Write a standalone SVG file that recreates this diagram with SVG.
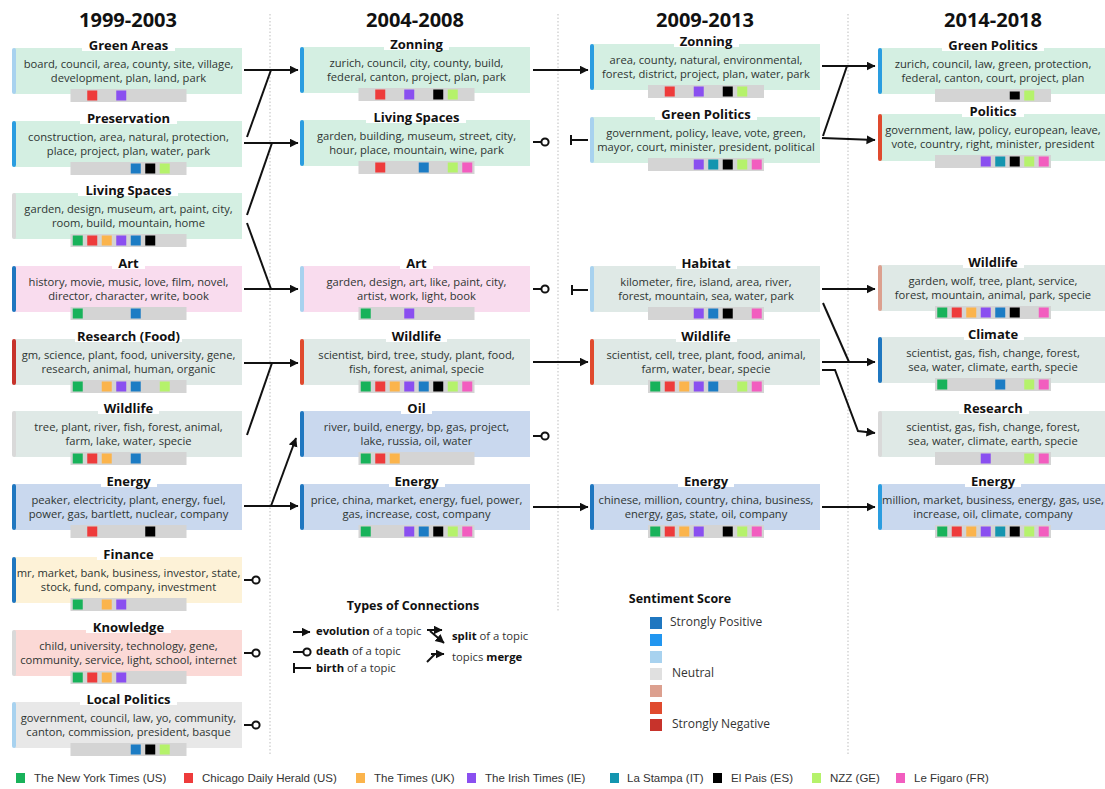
<svg xmlns="http://www.w3.org/2000/svg" width="1105" height="789" viewBox="0 0 1105 789">
<style>
text{font-family:"Open Sans","Liberation Sans",sans-serif;text-anchor:middle}
.hdr{font-size:20px;font-weight:700;fill:#111}
.ttl{font-size:13px;font-weight:700;fill:#111}
.txt{font-size:11.2px;fill:#2e3532}
.lg{font-size:11.3px;fill:#333;text-anchor:start}
.lgb{font-weight:700;fill:#111}
.lgt{font-size:12.5px;font-weight:700;fill:#111}
.sl{font-size:12px;fill:#333;text-anchor:start}
.np{font-family:"Liberation Sans",sans-serif;font-size:11.5px;fill:#333;text-anchor:start}
.tbg{fill:#fff}
.strip{fill:#d4d4d4}
.mint{fill:#d4efe2}.pink{fill:#f9dcee}.gg{fill:#dfe9e6}.blu{fill:#c9d8ee}.yel{fill:#fdf2d7}.ros{fill:#fbd9d6}.gry{fill:#e8e8e8}
.sp{fill:#1f77c0}.p{fill:#2a9de0}.lp{fill:#a8d2ef}.neu{fill:#d9d9d9}.ln{fill:#dca08f}.n{fill:#e04a2e}.sn{fill:#c7332b}
.c0{fill:#18b25a}.c1{fill:#ee3b3b}.c2{fill:#fbb44c}.c3{fill:#8a4ff0}.c4{fill:#1c7cc4}.c4t{fill:#1495af}.c5{fill:#000}.c6{fill:#b5f26b}.c7{fill:#f25dbf}
.sep{stroke:#c9c9c9;stroke-width:1.2;stroke-dasharray:1.5 2;fill:none}
.cn{fill:none;stroke:#111;stroke-width:2}
.dc{fill:#fff;stroke:#111;stroke-width:2}
</style>
<defs>
<marker id="arr" markerUnits="userSpaceOnUse" markerWidth="10" markerHeight="10" refX="8.5" refY="4.5" orient="auto"><path d="M0,0 L9,4.5 L0,9 z" fill="#111"/></marker>
</defs>
<rect width="1105" height="789" fill="#fff"/>

<g id="separators">
<line class="sep" x1="270" y1="14" x2="270" y2="755"/>
<line class="sep" x1="558" y1="14" x2="558" y2="612"/>
<line class="sep" x1="848" y1="14" x2="848" y2="755"/>
</g>

<g id="headers">
<text class="hdr" x="128" y="27">1999-2003</text>
<text class="hdr" x="415" y="27">2004-2008</text>
<text class="hdr" x="705" y="27">2009-2013</text>
<text class="hdr" x="993" y="27">2014-2018</text>
</g>

<g id="c1-green-areas" transform="translate(12,48)">
<rect class="mint" x="2" y="0" width="228" height="46"/><rect class="lp" x="0" y="0" width="4" height="46" rx="2"/>
<rect class="tbg" x="70" y="-12" width="93" height="15"/><text class="ttl" x="116.5" y="1.5">Green Areas</text>
<text class="txt" x="116.5" y="20">board, council, area, county, site, village,</text>
<text class="txt" x="116.5" y="34">development, plan, land, park</text>
<rect class="strip" x="58.5" y="41" width="116" height="13"/>
<rect class="c1" x="75.25" y="42.5" width="10" height="10"/><rect class="c3" x="104.25" y="42.5" width="10" height="10"/>
</g>
<g id="c1-preservation" transform="translate(12,121)">
<rect class="mint" x="2" y="0" width="228" height="46"/><rect class="p" x="0" y="0" width="4" height="46" rx="2"/>
<rect class="tbg" x="68" y="-12" width="97" height="15"/><text class="ttl" x="116.5" y="1.5">Preservation</text>
<text class="txt" x="116.5" y="20">construction, area, natural, protection,</text>
<text class="txt" x="116.5" y="34">place, project, plan, water, park</text>
<rect class="strip" x="58.5" y="41" width="116" height="13"/>
<rect class="c4" x="118.75" y="42.5" width="10" height="10"/><rect class="c5" x="133.25" y="42.5" width="10" height="10"/><rect class="c6" x="147.75" y="42.5" width="10" height="10"/>
</g>
<g id="c1-living-spaces" transform="translate(12,193)">
<rect class="mint" x="2" y="0" width="228" height="46"/><rect class="neu" x="0" y="0" width="4" height="46" rx="2"/>
<rect class="tbg" x="66" y="-12" width="100" height="15"/><text class="ttl" x="116.5" y="1.5">Living Spaces</text>
<text class="txt" x="116.5" y="20">garden, design, museum, art, paint, city,</text>
<text class="txt" x="116.5" y="34">room, build, mountain, home</text>
<rect class="strip" x="58.5" y="41" width="116" height="13"/>
<rect class="c0" x="60.75" y="42.5" width="10" height="10"/><rect class="c1" x="75.25" y="42.5" width="10" height="10"/><rect class="c2" x="89.75" y="42.5" width="10" height="10"/><rect class="c3" x="104.25" y="42.5" width="10" height="10"/><rect class="c4" x="118.75" y="42.5" width="10" height="10"/><rect class="c5" x="133.25" y="42.5" width="10" height="10"/>
</g>
<g id="c1-art" transform="translate(12,266)">
<rect class="pink" x="2" y="0" width="228" height="46"/><rect class="sp" x="0" y="0" width="4" height="46" rx="2"/>
<rect class="tbg" x="100" y="-12" width="33" height="15"/><text class="ttl" x="116.5" y="1.5">Art</text>
<text class="txt" x="116.5" y="20">history, movie, music, love, film, novel,</text>
<text class="txt" x="116.5" y="34">director, character, write, book</text>
<rect class="strip" x="58.5" y="41" width="116" height="13"/>
<rect class="c0" x="60.75" y="42.5" width="10" height="10"/><rect class="c4" x="118.75" y="42.5" width="10" height="10"/>
</g>
<g id="c1-research-food" transform="translate(12,339)">
<rect class="gg" x="2" y="0" width="228" height="46"/><rect class="sn" x="0" y="0" width="4" height="46" rx="2"/>
<rect class="tbg" x="63" y="-12" width="107" height="15"/><text class="ttl" x="116.5" y="1.5">Research (Food)</text>
<text class="txt" x="116.5" y="20">gm, science, plant, food, university, gene,</text>
<text class="txt" x="116.5" y="34">research, animal, human, organic</text>
<rect class="strip" x="58.5" y="41" width="116" height="13"/>
<rect class="c0" x="60.75" y="42.5" width="10" height="10"/><rect class="c2" x="89.75" y="42.5" width="10" height="10"/><rect class="c3" x="104.25" y="42.5" width="10" height="10"/><rect class="c4" x="118.75" y="42.5" width="10" height="10"/><rect class="c6" x="147.75" y="42.5" width="10" height="10"/>
</g>
<g id="c1-wildlife" transform="translate(12,411)">
<rect class="gg" x="2" y="0" width="228" height="46"/><rect class="neu" x="0" y="0" width="4" height="46" rx="2"/>
<rect class="tbg" x="86" y="-12" width="61" height="15"/><text class="ttl" x="116.5" y="1.5">Wildlife</text>
<text class="txt" x="116.5" y="20">tree, plant, river, fish, forest, animal,</text>
<text class="txt" x="116.5" y="34">farm, lake, water, specie</text>
<rect class="strip" x="58.5" y="41" width="116" height="13"/>
<rect class="c0" x="60.75" y="42.5" width="10" height="10"/><rect class="c1" x="75.25" y="42.5" width="10" height="10"/><rect class="c2" x="89.75" y="42.5" width="10" height="10"/><rect class="c4" x="118.75" y="42.5" width="10" height="10"/>
</g>
<g id="c1-energy" transform="translate(12,484)">
<rect class="blu" x="2" y="0" width="228" height="46"/><rect class="sp" x="0" y="0" width="4" height="46" rx="2"/>
<rect class="tbg" x="89" y="-12" width="56" height="15"/><text class="ttl" x="116.5" y="1.5">Energy</text>
<text class="txt" x="116.5" y="20">peaker, electricity, plant, energy, fuel,</text>
<text class="txt" x="116.5" y="34">power, gas, bartlett, nuclear, company</text>
<rect class="strip" x="58.5" y="41" width="116" height="13"/>
<rect class="c1" x="75.25" y="42.5" width="10" height="10"/><rect class="c5" x="133.25" y="42.5" width="10" height="10"/>
</g>
<g id="c1-finance" transform="translate(12,557)">
<rect class="yel" x="2" y="0" width="228" height="46"/><rect class="sp" x="0" y="0" width="4" height="46" rx="2"/>
<rect class="tbg" x="85" y="-12" width="63" height="15"/><text class="ttl" x="116.5" y="1.5">Finance</text>
<text class="txt" x="116.5" y="20">mr, market, bank, business, investor, state,</text>
<text class="txt" x="116.5" y="34">stock, fund, company, investment</text>
<rect class="strip" x="58.5" y="41" width="116" height="13"/>
<rect class="c0" x="60.75" y="42.5" width="10" height="10"/><rect class="c2" x="89.75" y="42.5" width="10" height="10"/><rect class="c3" x="104.25" y="42.5" width="10" height="10"/>
</g>
<g id="c1-knowledge" transform="translate(12,630)">
<rect class="ros" x="2" y="0" width="228" height="46"/><rect class="neu" x="0" y="0" width="4" height="46" rx="2"/>
<rect class="tbg" x="74" y="-12" width="85" height="15"/><text class="ttl" x="116.5" y="1.5">Knowledge</text>
<text class="txt" x="116.5" y="20">child, university, technology, gene,</text>
<text class="txt" x="116.5" y="34">community, service, light, school, internet</text>
<rect class="strip" x="58.5" y="41" width="116" height="13"/>
<rect class="c0" x="60.75" y="42.5" width="10" height="10"/><rect class="c1" x="75.25" y="42.5" width="10" height="10"/><rect class="c2" x="89.75" y="42.5" width="10" height="10"/><rect class="c3" x="104.25" y="42.5" width="10" height="10"/>
</g>
<g id="c1-local-politics" transform="translate(12,702)">
<rect class="gry" x="2" y="0" width="228" height="46"/><rect class="lp" x="0" y="0" width="4" height="46" rx="2"/>
<rect class="tbg" x="68" y="-12" width="97" height="15"/><text class="ttl" x="116.5" y="1.5">Local Politics</text>
<text class="txt" x="116.5" y="20">government, council, law, yo, community,</text>
<text class="txt" x="116.5" y="34">canton, commission, president, basque</text>
<rect class="strip" x="58.5" y="41" width="116" height="13"/>
<rect class="c4" x="118.75" y="42.5" width="10" height="10"/><rect class="c5" x="133.25" y="42.5" width="10" height="10"/><rect class="c6" x="147.75" y="42.5" width="10" height="10"/>
</g>

<g id="c2-zonning" transform="translate(300,47)">
<rect class="mint" x="2" y="0" width="228" height="46"/><rect class="p" x="0" y="0" width="4" height="46" rx="2"/>
<rect class="tbg" x="84" y="-12" width="65" height="15"/><text class="ttl" x="116.5" y="1.5">Zonning</text>
<text class="txt" x="116.5" y="19.5">zurich, council, city, county, build,</text>
<text class="txt" x="116.5" y="33.5">federal, canton, project, plan, park</text>
<rect class="strip" x="58.5" y="41" width="116" height="13"/>
<rect class="c1" x="75.25" y="42.5" width="10" height="10"/><rect class="c3" x="104.25" y="42.5" width="10" height="10"/><rect class="c5" x="133.25" y="42.5" width="10" height="10"/><rect class="c6" x="147.75" y="42.5" width="10" height="10"/>
</g>
<g id="c2-living-spaces" transform="translate(300,120)">
<rect class="mint" x="2" y="0" width="228" height="46"/><rect class="p" x="0" y="0" width="4" height="46" rx="2"/>
<rect class="tbg" x="66" y="-12" width="100" height="15"/><text class="ttl" x="116.5" y="1.5">Living Spaces</text>
<text class="txt" x="116.5" y="19.5">garden, building, museum, street, city,</text>
<text class="txt" x="116.5" y="33.5">hour, place, mountain, wine, park</text>
<rect class="strip" x="58.5" y="41" width="116" height="13"/>
<rect class="c1" x="75.25" y="42.5" width="10" height="10"/><rect class="c4" x="118.75" y="42.5" width="10" height="10"/><rect class="c6" x="147.75" y="42.5" width="10" height="10"/><rect class="c7" x="162.25" y="42.5" width="10" height="10"/>
</g>
<g id="c2-art" transform="translate(300,266)">
<rect class="pink" x="2" y="0" width="228" height="46"/><rect class="lp" x="0" y="0" width="4" height="46" rx="2"/>
<rect class="tbg" x="100" y="-12" width="33" height="15"/><text class="ttl" x="116.5" y="1.5">Art</text>
<text class="txt" x="116.5" y="19.5">garden, design, art, like, paint, city,</text>
<text class="txt" x="116.5" y="33.5">artist, work, light, book</text>
<rect class="strip" x="58.5" y="41" width="116" height="13"/>
<rect class="c0" x="60.75" y="42.5" width="10" height="10"/><rect class="c3" x="104.25" y="42.5" width="10" height="10"/>
</g>
<g id="c2-wildlife" transform="translate(300,339)">
<rect class="gg" x="2" y="0" width="228" height="46"/><rect class="n" x="0" y="0" width="4" height="46" rx="2"/>
<rect class="tbg" x="86" y="-12" width="61" height="15"/><text class="ttl" x="116.5" y="1.5">Wildlife</text>
<text class="txt" x="116.5" y="19.5">scientist, bird, tree, study, plant, food,</text>
<text class="txt" x="116.5" y="33.5">fish, forest, animal, specie</text>
<rect class="strip" x="58.5" y="41" width="116" height="13"/>
<rect class="c0" x="60.75" y="42.5" width="10" height="10"/><rect class="c1" x="75.25" y="42.5" width="10" height="10"/><rect class="c2" x="89.75" y="42.5" width="10" height="10"/><rect class="c3" x="104.25" y="42.5" width="10" height="10"/><rect class="c4" x="118.75" y="42.5" width="10" height="10"/><rect class="c5" x="133.25" y="42.5" width="10" height="10"/><rect class="c6" x="147.75" y="42.5" width="10" height="10"/><rect class="c7" x="162.25" y="42.5" width="10" height="10"/>
</g>
<g id="c2-oil" transform="translate(300,411)">
<rect class="blu" x="2" y="0" width="228" height="46"/><rect class="sp" x="0" y="0" width="4" height="46" rx="2"/>
<rect class="tbg" x="101" y="-12" width="31" height="15"/><text class="ttl" x="116.5" y="1.5">Oil</text>
<text class="txt" x="116.5" y="19.5">river, build, energy, bp, gas, project,</text>
<text class="txt" x="116.5" y="33.5">lake, russia, oil, water</text>
<rect class="strip" x="58.5" y="41" width="116" height="13"/>
<rect class="c0" x="60.75" y="42.5" width="10" height="10"/><rect class="c1" x="75.25" y="42.5" width="10" height="10"/><rect class="c2" x="89.75" y="42.5" width="10" height="10"/>
</g>
<g id="c2-energy" transform="translate(300,484)">
<rect class="blu" x="2" y="0" width="228" height="46"/><rect class="sp" x="0" y="0" width="4" height="46" rx="2"/>
<rect class="tbg" x="89" y="-12" width="56" height="15"/><text class="ttl" x="116.5" y="1.5">Energy</text>
<text class="txt" x="116.5" y="19.5">price, china, market, energy, fuel, power,</text>
<text class="txt" x="116.5" y="33.5">gas, increase, cost, company</text>
<rect class="strip" x="58.5" y="41" width="116" height="13"/>
<rect class="c0" x="60.75" y="42.5" width="10" height="10"/><rect class="c3" x="104.25" y="42.5" width="10" height="10"/><rect class="c4" x="118.75" y="42.5" width="10" height="10"/><rect class="c5" x="133.25" y="42.5" width="10" height="10"/><rect class="c6" x="147.75" y="42.5" width="10" height="10"/><rect class="c7" x="162.25" y="42.5" width="10" height="10"/>
</g>

<g id="c3-zonning" transform="translate(590,44)">
<rect class="mint" x="2" y="0" width="228" height="46"/><rect class="p" x="0" y="0" width="4" height="46" rx="2"/>
<rect class="tbg" x="84" y="-12" width="65" height="15"/><text class="ttl" x="116" y="1.5">Zonning</text>
<text class="txt" x="116" y="19.5">area, county, natural, environmental,</text>
<text class="txt" x="116" y="33.5">forest, district, project, plan, water, park</text>
<rect class="strip" x="58" y="41" width="116" height="13"/>
<rect class="c1" x="74.75" y="42.5" width="10" height="10"/><rect class="c3" x="103.75" y="42.5" width="10" height="10"/><rect class="c5" x="132.75" y="42.5" width="10" height="10"/><rect class="c6" x="147.25" y="42.5" width="10" height="10"/>
</g>
<g id="c3-green-politics" transform="translate(590,117)">
<rect class="mint" x="2" y="0" width="228" height="46"/><rect class="lp" x="0" y="0" width="4" height="46" rx="2"/>
<rect class="tbg" x="65" y="-12" width="102" height="15"/><text class="ttl" x="116" y="1.5">Green Politics</text>
<text class="txt" x="116" y="19.5">government, policy, leave, vote, green,</text>
<text class="txt" x="116" y="33.5">mayor, court, minister, president, political</text>
<rect class="strip" x="58" y="41" width="116" height="13"/>
<rect class="c3" x="103.75" y="42.5" width="10" height="10"/><rect class="c4t" x="118.25" y="42.5" width="10" height="10"/><rect class="c5" x="132.75" y="42.5" width="10" height="10"/><rect class="c6" x="147.25" y="42.5" width="10" height="10"/><rect class="c7" x="161.75" y="42.5" width="10" height="10"/>
</g>
<g id="c3-habitat" transform="translate(590,266)">
<rect class="gg" x="2" y="0" width="228" height="46"/><rect class="lp" x="0" y="0" width="4" height="46" rx="2"/>
<rect class="tbg" x="86" y="-12" width="61" height="15"/><text class="ttl" x="116" y="1.5">Habitat</text>
<text class="txt" x="116" y="19.5">kilometer, fire, island, area, river,</text>
<text class="txt" x="116" y="33.5">forest, mountain, sea, water, park</text>
<rect class="strip" x="58" y="41" width="116" height="13"/>
<rect class="c3" x="103.75" y="42.5" width="10" height="10"/><rect class="c4" x="118.25" y="42.5" width="10" height="10"/><rect class="c5" x="132.75" y="42.5" width="10" height="10"/><rect class="c7" x="161.75" y="42.5" width="10" height="10"/>
</g>
<g id="c3-wildlife" transform="translate(590,339)">
<rect class="gg" x="2" y="0" width="228" height="46"/><rect class="n" x="0" y="0" width="4" height="46" rx="2"/>
<rect class="tbg" x="86" y="-12" width="61" height="15"/><text class="ttl" x="116" y="1.5">Wildlife</text>
<text class="txt" x="116" y="19.5">scientist, cell, tree, plant, food, animal,</text>
<text class="txt" x="116" y="33.5">farm, water, bear, specie</text>
<rect class="strip" x="58" y="41" width="116" height="13"/>
<rect class="c0" x="60.25" y="42.5" width="10" height="10"/><rect class="c1" x="74.75" y="42.5" width="10" height="10"/><rect class="c2" x="89.25" y="42.5" width="10" height="10"/><rect class="c3" x="103.75" y="42.5" width="10" height="10"/><rect class="c4" x="118.25" y="42.5" width="10" height="10"/><rect class="c6" x="147.25" y="42.5" width="10" height="10"/><rect class="c7" x="161.75" y="42.5" width="10" height="10"/>
</g>
<g id="c3-energy" transform="translate(590,484)">
<rect class="blu" x="2" y="0" width="228" height="46"/><rect class="sp" x="0" y="0" width="4" height="46" rx="2"/>
<rect class="tbg" x="88" y="-12" width="56" height="15"/><text class="ttl" x="116" y="1.5">Energy</text>
<text class="txt" x="116" y="19.5">chinese, million, country, china, business,</text>
<text class="txt" x="116" y="33.5">energy, gas, state, oil, company</text>
<rect class="strip" x="58" y="41" width="116" height="13"/>
<rect class="c0" x="60.25" y="42.5" width="10" height="10"/><rect class="c1" x="74.75" y="42.5" width="10" height="10"/><rect class="c2" x="89.25" y="42.5" width="10" height="10"/><rect class="c3" x="103.75" y="42.5" width="10" height="10"/><rect class="c5" x="132.75" y="42.5" width="10" height="10"/><rect class="c6" x="147.25" y="42.5" width="10" height="10"/><rect class="c7" x="161.75" y="42.5" width="10" height="10"/>
</g>

<g id="c4-green-politics" transform="translate(878,48)">
<rect class="mint" x="2" y="0" width="228" height="46"/><rect class="p" x="0" y="0" width="4" height="46" rx="2"/>
<rect class="tbg" x="64" y="-12" width="102" height="15"/><text class="ttl" x="115" y="1.5">Green Politics</text>
<text class="txt" x="115" y="19.5">zurich, council, law, green, protection,</text>
<text class="txt" x="115" y="33.5">federal, canton, court, project, plan</text>
<rect class="strip" x="57" y="41" width="116" height="13"/>
<rect class="c5" x="131.75" y="43.5" width="10" height="8"/><rect class="c6" x="146.25" y="42.5" width="10" height="10"/>
</g>
<g id="c4-politics" transform="translate(878,114)">
<rect class="mint" x="2" y="0" width="228" height="47"/><rect class="n" x="0" y="0" width="4" height="47" rx="2"/>
<rect class="tbg" x="84" y="-12" width="62" height="15"/><text class="ttl" x="115" y="1.5">Politics</text>
<text class="txt" x="115" y="19.5">government, law, policy, european, leave,</text>
<text class="txt" x="115" y="33.5">vote, country, right, minister, president</text>
<rect class="strip" x="57" y="41" width="116" height="13"/>
<rect class="c3" x="102.75" y="42.5" width="10" height="10"/><rect class="c4t" x="117.25" y="42.5" width="10" height="10"/><rect class="c5" x="131.75" y="42.5" width="10" height="10"/><rect class="c6" x="146.25" y="42.5" width="10" height="10"/><rect class="c7" x="160.75" y="42.5" width="10" height="10"/>
</g>
<g id="c4-wildlife" transform="translate(878,265)">
<rect class="gg" x="2" y="0" width="228" height="46"/><rect class="ln" x="0" y="0" width="4" height="46" rx="2"/>
<rect class="tbg" x="85" y="-12" width="61" height="15"/><text class="ttl" x="115" y="1.5">Wildlife</text>
<text class="txt" x="115" y="19.5">garden, wolf, tree, plant, service,</text>
<text class="txt" x="115" y="33.5">forest, mountain, animal, park, specie</text>
<rect class="strip" x="57" y="41" width="116" height="13"/>
<rect class="c0" x="59.25" y="42.5" width="10" height="10"/><rect class="c1" x="73.75" y="42.5" width="10" height="10"/><rect class="c2" x="88.25" y="42.5" width="10" height="10"/><rect class="c3" x="102.75" y="42.5" width="10" height="10"/><rect class="c4" x="117.25" y="42.5" width="10" height="10"/><rect class="c5" x="131.75" y="42.5" width="10" height="10"/><rect class="c7" x="160.75" y="42.5" width="10" height="10"/>
</g>
<g id="c4-climate" transform="translate(878,337)">
<rect class="gg" x="2" y="0" width="228" height="46"/><rect class="sp" x="0" y="0" width="4" height="46" rx="2"/>
<rect class="tbg" x="86" y="-12" width="60" height="15"/><text class="ttl" x="115" y="1.5">Climate</text>
<text class="txt" x="115" y="19.5">scientist, gas, fish, change, forest,</text>
<text class="txt" x="115" y="33.5">sea, water, climate, earth, specie</text>
<rect class="strip" x="57" y="41" width="116" height="13"/>
<rect class="c0" x="59.25" y="42.5" width="10" height="10"/><rect class="c4" x="117.25" y="42.5" width="10" height="10"/><rect class="c6" x="146.25" y="42.5" width="10" height="10"/><rect class="c7" x="160.75" y="42.5" width="10" height="10"/>
</g>
<g id="c4-research" transform="translate(878,411)">
<rect class="gg" x="2" y="0" width="228" height="46"/><rect class="neu" x="0" y="0" width="4" height="46" rx="2"/>
<rect class="tbg" x="81" y="-12" width="70" height="15"/><text class="ttl" x="115" y="1.5">Research</text>
<text class="txt" x="115" y="19.5">scientist, gas, fish, change, forest,</text>
<text class="txt" x="115" y="33.5">sea, water, climate, earth, specie</text>
<rect class="strip" x="57" y="41" width="116" height="13"/>
<rect class="c3" x="102.75" y="42.5" width="10" height="10"/><rect class="c6" x="146.25" y="42.5" width="10" height="10"/><rect class="c7" x="160.75" y="42.5" width="10" height="10"/>
</g>
<g id="c4-energy" transform="translate(878,484)">
<rect class="blu" x="2" y="0" width="228" height="46"/><rect class="p" x="0" y="0" width="4" height="46" rx="2"/>
<rect class="tbg" x="87" y="-12" width="56" height="15"/><text class="ttl" x="115" y="1.5">Energy</text>
<text class="txt" x="115" y="19.5">million, market, business, energy, gas, use,</text>
<text class="txt" x="115" y="33.5">increase, oil, climate, company</text>
<rect class="strip" x="57" y="41" width="116" height="13"/>
<rect class="c0" x="59.25" y="42.5" width="10" height="10"/><rect class="c1" x="73.75" y="42.5" width="10" height="10"/><rect class="c2" x="88.25" y="42.5" width="10" height="10"/><rect class="c3" x="102.75" y="42.5" width="10" height="10"/><rect class="c4t" x="117.25" y="42.5" width="10" height="10"/><rect class="c5" x="131.75" y="42.5" width="10" height="10"/><rect class="c6" x="146.25" y="42.5" width="10" height="10"/><rect class="c7" x="160.75" y="42.5" width="10" height="10"/>
</g>

<g id="connectors">
<line class="cn" x1="244" y1="70" x2="298" y2="70" marker-end="url(#arr)"/>
<line class="cn" x1="247" y1="137" x2="271" y2="70"/>
<line class="cn" x1="244" y1="143" x2="298" y2="143" marker-end="url(#arr)"/>
<line class="cn" x1="247" y1="215" x2="272" y2="143"/>
<line class="cn" x1="247" y1="223" x2="271" y2="289"/>
<line class="cn" x1="244" y1="289" x2="298" y2="289" marker-end="url(#arr)"/>
<line class="cn" x1="244" y1="363" x2="298" y2="363" marker-end="url(#arr)"/>
<line class="cn" x1="247" y1="435" x2="272" y2="363"/>
<line class="cn" x1="244" y1="506" x2="298" y2="506" marker-end="url(#arr)"/>
<line class="cn" x1="271" y1="506" x2="296" y2="438" marker-end="url(#arr)"/>
<line class="cn" x1="244" y1="580" x2="252" y2="580"/><circle class="dc" cx="256" cy="580" r="3.6"/>
<line class="cn" x1="244" y1="653" x2="252" y2="653"/><circle class="dc" cx="256" cy="653" r="3.6"/>
<line class="cn" x1="244" y1="725" x2="252" y2="725"/><circle class="dc" cx="256" cy="725" r="3.6"/>

<line class="cn" x1="533" y1="70" x2="588" y2="70" marker-end="url(#arr)"/>
<line class="cn" x1="533" y1="142" x2="541" y2="142"/><circle class="dc" cx="545" cy="142" r="3.6"/>
<line class="cn" x1="533" y1="289" x2="541" y2="289"/><circle class="dc" cx="545" cy="289" r="3.6"/>
<line class="cn" x1="533" y1="362" x2="588" y2="362" marker-end="url(#arr)"/>
<line class="cn" x1="533" y1="436" x2="541" y2="436"/><circle class="dc" cx="545" cy="436" r="3.6"/>
<line class="cn" x1="533" y1="507" x2="588" y2="507" marker-end="url(#arr)"/>
<path class="cn" d="M571 135 V145 M571 140 H588"/>
<path class="cn" d="M572 285 V295 M572 290 H588"/>

<line class="cn" x1="822" y1="66" x2="875" y2="66" marker-end="url(#arr)"/>
<line class="cn" x1="823" y1="136" x2="847" y2="66"/>
<line class="cn" x1="822" y1="138" x2="875" y2="140" marker-end="url(#arr)"/>
<line class="cn" x1="822" y1="289" x2="875" y2="289" marker-end="url(#arr)"/>
<line class="cn" x1="823" y1="303" x2="849" y2="362"/>
<line class="cn" x1="822" y1="362" x2="875" y2="362" marker-end="url(#arr)"/>
<polyline class="cn" points="822,370 835,370 858,431 875,433" marker-end="url(#arr)"/>
<line class="cn" x1="822" y1="507" x2="875" y2="507" marker-end="url(#arr)"/>
</g>

<g id="legend-connections">
<text class="lgt" x="413" y="610">Types of Connections</text>
<line class="cn" x1="293" y1="632" x2="310" y2="632" marker-end="url(#arr)"/>
<text class="lg" x="316" y="635"><tspan class="lgb">evolution</tspan> of a topic</text>
<line class="cn" x1="293" y1="652" x2="303" y2="652"/><circle class="dc" cx="307" cy="652" r="3.6"/>
<text class="lg" x="316" y="655"><tspan class="lgb">death</tspan> of a topic</text>
<path class="cn" d="M294 663 V673 M294 668 H311"/>
<text class="lg" x="316" y="672"><tspan class="lgb">birth</tspan> of a topic</text>
<line class="cn" x1="427" y1="630" x2="442" y2="630" marker-end="url(#arr)"/>
<line class="cn" x1="430" y1="631" x2="444" y2="643" marker-end="url(#arr)"/>
<text class="lg" x="452" y="640"><tspan class="lgb">split</tspan> of a topic</text>
<line class="cn" x1="427" y1="662" x2="435" y2="654"/>
<line class="cn" x1="431" y1="654" x2="444" y2="654" marker-end="url(#arr)"/>
<text class="lg" x="452" y="661">topics <tspan class="lgb">merge</tspan></text>
</g>

<g id="legend-sentiment">
<text class="lgt" x="680" y="603">Sentiment Score</text>
<rect class="sp" x="650" y="617" width="12" height="12"/>
<rect fill="#2196f0" x="650" y="634" width="12" height="12"/>
<rect class="lp" x="650" y="651" width="12" height="12"/>
<rect fill="#e0e0e0" x="650" y="668" width="12" height="12"/>
<rect class="ln" x="650" y="685" width="12" height="12"/>
<rect class="n" x="650" y="702" width="12" height="12"/>
<rect class="sn" x="650" y="719" width="12" height="12"/>
<text class="sl" x="670" y="626">Strongly Positive</text>
<text class="sl" x="672" y="677">Neutral</text>
<text class="sl" x="672" y="728">Strongly Negative</text>
</g>

<g id="legend-newspapers">
<rect class="c0" x="16" y="773" width="9" height="10"/><text class="np" x="34" y="782">The New York Times (US)</text>
<rect class="c1" x="184" y="773" width="9" height="10"/><text class="np" x="202" y="782">Chicago Daily Herald (US)</text>
<rect class="c2" x="356" y="773" width="9" height="10"/><text class="np" x="374" y="782">The Times (UK)</text>
<rect class="c3" x="467" y="773" width="9" height="10"/><text class="np" x="485" y="782">The Irish Times (IE)</text>
<rect class="c4t" x="610" y="773" width="9" height="10"/><text class="np" x="627" y="782">La Stampa (IT)</text>
<rect class="c5" x="713" y="773" width="9" height="10"/><text class="np" x="731" y="782">El Pais (ES)</text>
<rect class="c6" x="812" y="773" width="9" height="10"/><text class="np" x="830" y="782">NZZ (GE)</text>
<rect class="c7" x="896" y="773" width="9" height="10"/><text class="np" x="914" y="782">Le Figaro (FR)</text>
</g>
</svg>
